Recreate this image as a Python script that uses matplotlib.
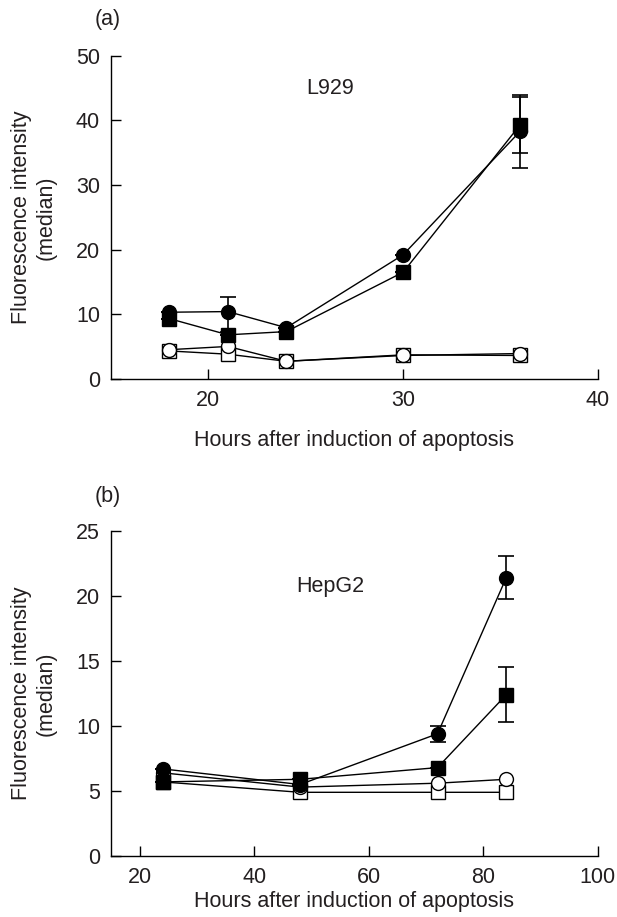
import matplotlib
matplotlib.use('Agg')
import matplotlib.pyplot as plt

plt.rcParams['font.family'] = ['Liberation Sans', 'DejaVu Sans']
plt.rcParams['text.color'] = '#231f20'
plt.rcParams['axes.labelcolor'] = '#231f20'
plt.rcParams['xtick.labelcolor'] = '#231f20'
plt.rcParams['ytick.labelcolor'] = '#231f20'

# panel (a) L929
hours_a = [18, 21, 24, 30, 36]
a_fill_circ = [10.3, 10.4, 7.9, 19.2, 38.3]
a_fill_circ_err = [[0, 3.2, 0, 0, 5.6], [0, 2.3, 0, 0, 5.6]]
a_fill_sq = [9.3, 6.8, 7.3, 16.5, 39.3]
a_fill_sq_err = [[0, 0, 0, 0, 4.4], [0, 0, 0, 0, 4.4]]
a_open_circ = [4.5, 5.0, 2.7, 3.6, 3.9]
a_open_sq = [4.3, 3.8, 2.7, 3.7, 3.6]

# panel (b) HepG2
hours_b = [24, 48, 72, 84]
b_fill_circ = [6.7, 5.5, 9.4, 21.4]
b_fill_circ_err = [[0, 0, 0.6, 1.65], [0, 0, 0.6, 1.65]]
b_fill_sq = [5.7, 5.9, 6.8, 12.4]
b_fill_sq_err = [[0, 0, 0, 2.1], [0, 0, 0, 2.1]]
b_open_circ = [6.4, 5.3, 5.6, 5.9]
b_open_sq = [5.7, 4.9, 4.9, 4.9]

FS = 15.5


def draw_series(ax, x, y, err, marker, face):
    ax.plot(x, y, color='black', lw=1.0, marker=marker, markersize=10 if marker == 'o' else 9.5,
            markerfacecolor=face, markeredgecolor='black', markeredgewidth=1.0, zorder=3)
    if err is not None:
        ax.errorbar(x, y, yerr=err, fmt='none', ecolor='black', elinewidth=1.2,
                    capsize=6, capthick=1.2, zorder=2)


def style_axes(ax, xpad):
    for s in ['top', 'right']:
        ax.spines[s].set_visible(False)
    ax.spines['left'].set_linewidth(1.0)
    ax.spines['bottom'].set_linewidth(1.0)
    ax.tick_params(direction='in', length=7, width=1.0, labelsize=FS, pad=8)
    ax.set_ylabel('Fluorescence intensity\n(median)', fontsize=FS, labelpad=14)
    ax.set_xlabel('Hours after induction of apoptosis', fontsize=FS, labelpad=xpad)


fig = plt.figure(figsize=(6.17, 9.17), dpi=100)

ax1 = fig.add_axes([0.180, 0.587, 0.789, 0.352])
draw_series(ax1, hours_a, a_open_sq, None, 's', 'white')
draw_series(ax1, hours_a, a_open_circ, None, 'o', 'white')
draw_series(ax1, hours_a, a_fill_sq, a_fill_sq_err, 's', 'black')
draw_series(ax1, hours_a, a_fill_circ, a_fill_circ_err, 'o', 'black')
ax1.set_xlim(15, 40)
ax1.set_ylim(0, 50)
ax1.set_xticks([20, 30, 40])
ax1.set_yticks([0, 10, 20, 30, 40, 50])
style_axes(ax1, 14)
ax1.text(0.45, 0.90, 'L929', transform=ax1.transAxes, fontsize=FS, ha='center', va='center')
fig.text(0.175, 0.979, '(a)', fontsize=FS, ha='center', va='center')

ax2 = fig.add_axes([0.180, 0.0665, 0.789, 0.3545])
draw_series(ax2, hours_b, b_open_sq, None, 's', 'white')
draw_series(ax2, hours_b, b_open_circ, None, 'o', 'white')
draw_series(ax2, hours_b, b_fill_sq, b_fill_sq_err, 's', 'black')
draw_series(ax2, hours_b, b_fill_circ, b_fill_circ_err, 'o', 'black')
ax2.set_xlim(15, 100)
ax2.set_ylim(0, 25)
ax2.set_xticks([20, 40, 60, 80, 100])
ax2.set_yticks([0, 5, 10, 15, 20, 25])
style_axes(ax2, 2)
ax2.text(0.45, 0.83, 'HepG2', transform=ax2.transAxes, fontsize=FS, ha='center', va='center')
fig.text(0.175, 0.459, '(b)', fontsize=FS, ha='center', va='center')

fig.savefig('out.png', dpi=100)
